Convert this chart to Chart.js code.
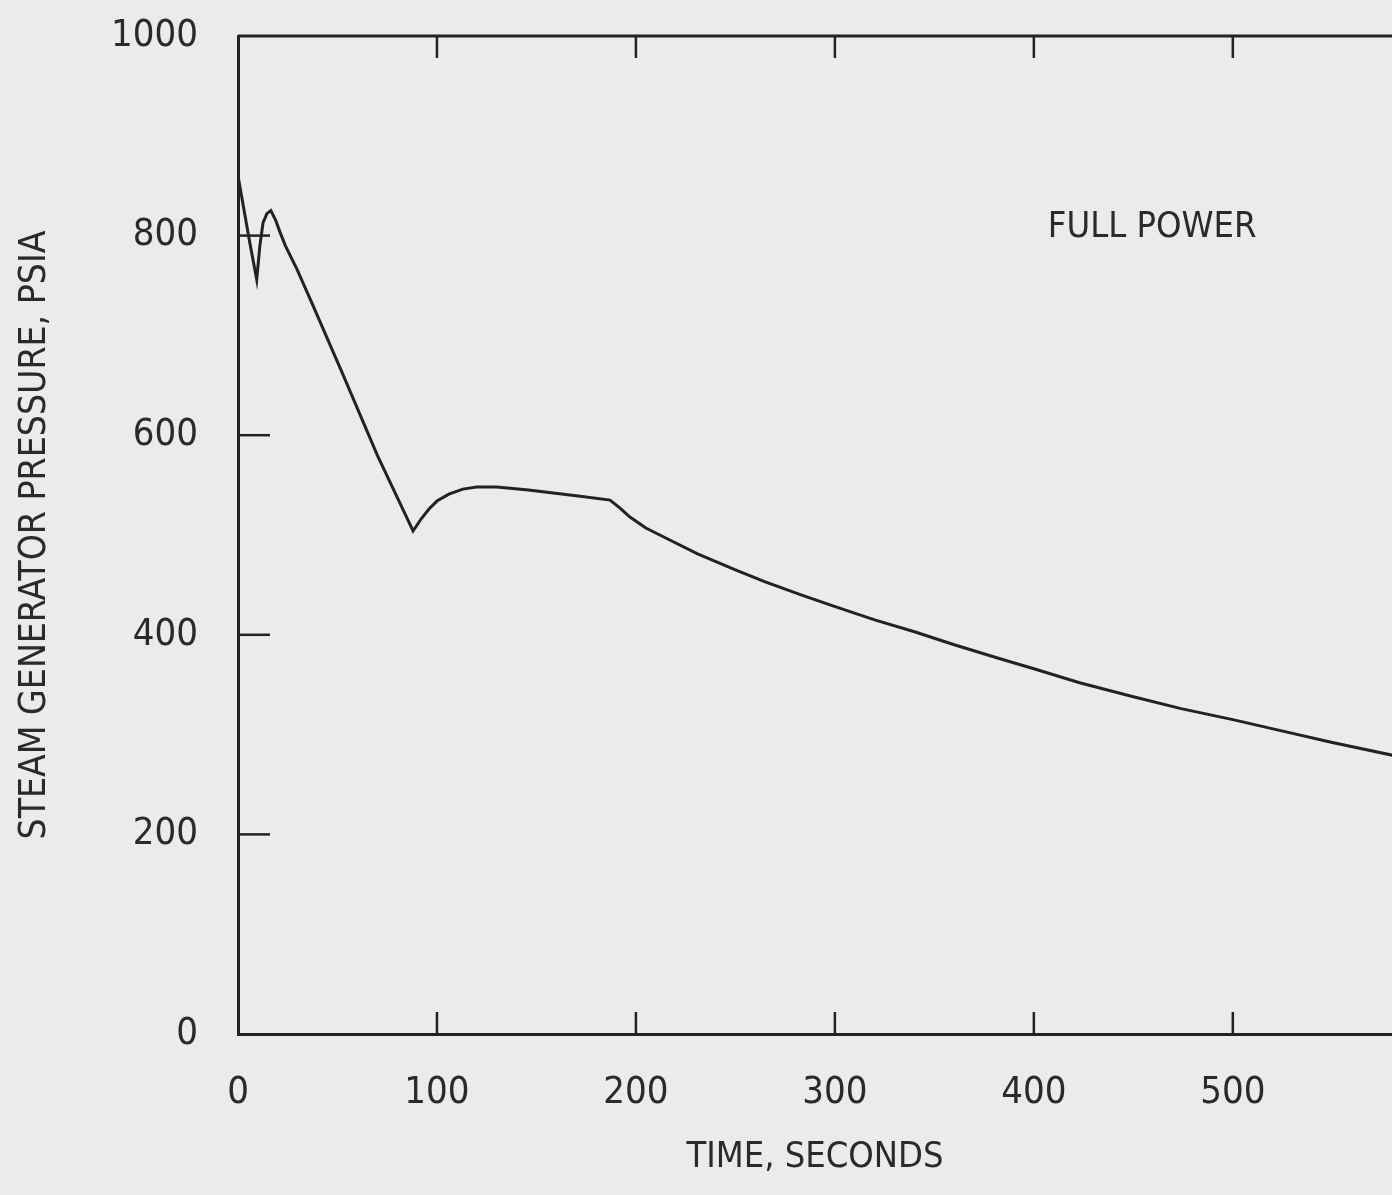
<!DOCTYPE html>
<html>
<head>
<meta charset="utf-8">
<script src="https://cdn.jsdelivr.net/npm/chart.js@4/dist/chart.umd.min.js"></script>
<style>
  html, body { margin: 0; padding: 0; background: #ebebeb; }
  #wrap { width: 1392px; height: 1195px; }
</style>
</head>
<body>
<div id="wrap"><canvas id="myChart"></canvas></div>
<script>
  // steam generator pressure vs time
  const times = [0, 3, 6, 9.4, 11, 12.6, 14.5, 16.5, 19, 21.2, 23.8, 26.5, 29.5, 37, 52.5, 70, 88,
    92, 96, 100, 106, 113, 120, 130, 146, 171, 187, 192, 197, 205, 215, 231, 250, 265, 283, 299,
    320, 340, 360, 383, 400, 423, 450, 474, 500, 524, 550, 581];
  const pressures = [860, 826, 792, 756, 790, 813, 822, 825, 815, 803, 790, 779, 767, 733, 662, 580, 504,
    516, 526, 534, 541, 546, 548, 548, 545, 539, 535, 527, 518, 507, 497, 481, 465, 453, 440, 429,
    415, 403, 390, 376, 366, 352, 338, 326, 315, 304, 292, 279];

  const xTicks = [0, 100, 200, 300, 400, 500];
  const yTicks = [0, 200, 400, 600, 800, 1000];

  const xTitle = 'TIME, SECONDS';
  const yTitle = 'STEAM GENERATOR PRESSURE, PSIA';
  const note = 'FULL POWER';

  const ink = '#222';
  const fontFam = "'Liberation Sans Narrow', 'DejaVu Sans Condensed', sans-serif";

  const points = times.map((t, i) => ({ x: t, y: pressures[i] }));

  // inner tick marks, top border and the note
  const frame = {
    id: 'frame',
    afterDraw(chart) {
      const ctx = chart.ctx;
      const a = chart.chartArea;
      const xs = chart.scales.x;
      const ys = chart.scales.y;
      ctx.save();
      ctx.strokeStyle = ink;
      ctx.lineWidth = 3;
      ctx.beginPath();
      ctx.moveTo(a.left, a.top);
      ctx.lineTo(a.right, a.top);
      ctx.stroke();
      ctx.lineWidth = 2.5;
      for (const v of xTicks) {
        if (v === 0) continue;
        const px = xs.getPixelForValue(v);
        ctx.beginPath();
        ctx.moveTo(px, a.top);
        ctx.lineTo(px, a.top + 22);
        ctx.moveTo(px, a.bottom);
        ctx.lineTo(px, a.bottom - 22);
        ctx.stroke();
      }
      for (const v of yTicks) {
        if (v === 0 || v === 1000) continue;
        const py = ys.getPixelForValue(v);
        ctx.beginPath();
        ctx.moveTo(a.left, py);
        ctx.lineTo(a.left + 32, py);
        ctx.stroke();
      }
      ctx.fillStyle = '#2a2a2a';
      ctx.font = '36px ' + fontFam;
      ctx.textBaseline = 'middle';
      ctx.fillText(note, xs.getPixelForValue(407), ys.getPixelForValue(808));
      ctx.restore();
    }
  };

  const config = {
    type: 'line',
    data: {
      datasets: [{
        label: 'pressure',
        data: points,
        borderColor: ink,
        borderWidth: 3,
        pointRadius: 0,
        tension: 0,
        fill: false
      }]
    },
    options: {
      responsive: true,
      maintainAspectRatio: false,
      animation: false,
      layout: { padding: { top: 36, left: 0, right: 0, bottom: 0 } },
      plugins: { legend: { display: false }, tooltip: { enabled: false } },
      scales: {
        x: {
          type: 'linear',
          min: 0,
          max: 580,
          afterBuildTicks: s => { s.ticks = xTicks.map(v => ({ value: v })); },
          afterFit: s => { s.height = 161; s.paddingLeft = 0; s.paddingRight = 0; },
          grid: { display: false, drawTicks: false },
          border: { display: true, color: ink, width: 3 },
          ticks: { color: '#2a2a2a', padding: 36, font: { size: 38, family: fontFam },
            callback: v => String(v) },
          title: { display: true, text: xTitle, color: '#2a2a2a', padding: { bottom: 16 },
            font: { size: 36, family: fontFam } }
        },
        y: {
          min: 0,
          max: 1000,
          afterBuildTicks: s => { s.ticks = yTicks.map(v => ({ value: v })); },
          afterFit: s => { s.width = 238; s.paddingTop = 0; s.paddingBottom = 0; },
          grid: { display: false, drawTicks: false },
          border: { display: true, color: ink, width: 3 },
          ticks: { color: '#2a2a2a', padding: 40, font: { size: 38, family: fontFam },
            callback: v => String(v) },
          title: { display: true, text: yTitle, color: '#2a2a2a', padding: { top: 13 },
            font: { size: 37, family: fontFam } }
        }
      }
    },
    plugins: [frame]
  };

  const myChart = new Chart(document.getElementById('myChart'), config);
</script>
</body>
</html>
